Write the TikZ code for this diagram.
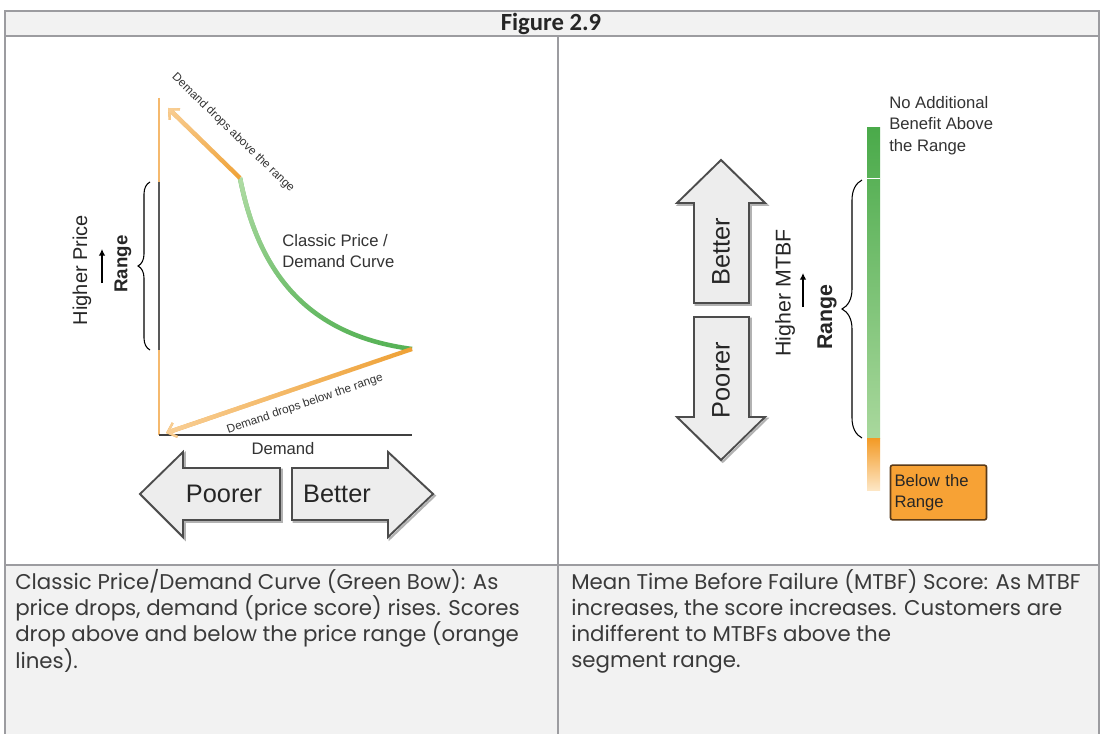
\documentclass[tikz,border=0pt]{standalone}
\usepackage{fontspec}
\setmainfont{Liberation Sans}
\newfontfamily\capfont{Poppins}
\newfontfamily\titlefont{Carlito}
\usetikzlibrary{arrows.meta, positioning, calc, decorations.pathreplacing, fadings}

\definecolor{rulegray}{HTML}{9C9CA0}
\definecolor{cellgray}{HTML}{F2F2F2}
\definecolor{textgray}{HTML}{3A3A3A}
\definecolor{lgreen}{HTML}{B2DDA6}
\definecolor{dgreen}{HTML}{55B255}
\definecolor{bargreen}{HTML}{4AAA4A}
\definecolor{barlight}{HTML}{A9D89D}
\definecolor{lorange}{HTML}{F9CF96}
\definecolor{dorange}{HTML}{EFA135}
\definecolor{axorange}{HTML}{F5B96E}
\definecolor{barorange}{HTML}{F39A25}
\definecolor{barpale}{HTML}{FDE6C4}
\definecolor{boxorange}{HTML}{F7A235}
\definecolor{boxedge}{HTML}{5A3A18}
\definecolor{arrowfill}{HTML}{EDEDED}

\tikzfading[name=fadedown, top color=transparent!0, bottom color=transparent!100]
\tikzfading[name=fadeleft, left color=transparent!0, right color=transparent!100]

\begin{document}
\begin{tikzpicture}[x=0.75pt, y=-0.75pt,
  rule/.style={draw=rulegray, line width=2.2pt},
  captext/.style={anchor=north west, align=left, text=textgray, inner sep=0pt,
    font=\capfont\fontsize{16}{19.7}\selectfont},
  lab/.style={text=black!80, inner sep=0pt, align=left, font=\fontsize{12.5}{16}\selectfont},
  tinylab/.style={text=black!80, inner sep=0pt, font=\fontsize{8.8}{10}\selectfont},
  biglab/.style={text=black!85, inner sep=0pt, font=\fontsize{19}{22}\selectfont},
  sidelab/.style={text=black!85, inner sep=0pt, rotate=90},
  blk/.style={fill=arrowfill, draw=black!70, line width=1.4pt, line join=miter,
    preaction={draw=black!30, line width=1.6pt, transform canvas={xshift=1.3pt, yshift=-1.3pt}}},
  orng/.style={line width=3.2pt, dorange, -{Straight Barb[length=6pt, width=11pt, line width=1.6pt]}},
  greencurve/.style={line width=3.4pt},
  uparrow/.style={-{Latex[length=5pt, width=5pt]}, line width=1.2pt},
  belowbox/.style={draw=boxedge, fill=boxorange, rounded corners=1.5pt, line width=1.2pt,
    text width=66pt, minimum height=41pt, inner sep=3pt, align=left, text=black!85,
    font=\fontsize{12.5}{16}\selectfont}]
  \useasboundingbox (0,0) rectangle (1102,734);
  \fill[white] (0,0) rectangle (1102,734);

  % table
  \fill[cellgray] (5,11) rectangle (1099,36);
  \fill[cellgray] (5,565) rectangle (1099,734);
  \draw[rule] (5,734) -- (5,11) -- (1099,11) -- (1099,734);
  \draw[rule] (5,36) -- (1099,36);
  \draw[rule] (5,565) -- (1099,565);
  \draw[rule] (558,36) -- (558,734);
  \node[font=\titlefont\bfseries\fontsize{18.5}{20}\selectfont, text=black!85] (ttl) at (551,23.5) {Figure 2.9};

  % price / demand panel
  \coordinate (org) at (159,435);
  \coordinate (ytop) at (159,98);
  \coordinate (rtop) at (159,182);
  \coordinate (rbot) at (159,350);
  \coordinate (xend) at (412,435);
  \coordinate (ctop) at (240,178);
  \coordinate (cbot) at (412,349);
  \coordinate (uptip) at (168,108);
  \coordinate (lowtip) at (166,433);
  \draw[axorange, line width=1.8pt] (ytop) -- (rtop) (rbot) -- (org);
  \draw[black!65, line width=1.8pt] (rtop) -- (rbot);
  \draw[black!75, line width=1.6pt] (org) -- (xend);
  \draw[greencurve, dgreen] (ctop) .. controls (258,270) and (305,335) .. (cbot);
  \draw[greencurve, lgreen, path fading=fadedown] (ctop) .. controls (258,270) and (305,335) .. (cbot);
  \draw[orng] (ctop) -- (uptip);
  \draw[orng, lorange, path fading=fadedown] (ctop) -- (uptip);
  \draw[orng] (cbot) -- (lowtip);
  \draw[orng, lorange, path fading=fadeleft] (cbot) -- (lowtip);
  \node[tinylab, rotate=-44] (dropup) at (233,133) {Demand drops above the range};
  \node[tinylab, rotate=18.8] (dropdn) at (305,404) {Demand drops below the range};
  \node[lab, anchor=west] (classic) at (282,251) {Classic Price /\\Demand Curve};
  \node[lab] (dem) at (283,449) {Demand};
  \draw[decorate, decoration={brace, amplitude=9pt}, line width=0.8pt] (150,350) -- (150,182);
  \node[sidelab, font=\bfseries\fontsize{14}{16}\selectfont] (rng) at (123,264) {Range};
  \node[sidelab, font=\fontsize{15}{17}\selectfont] (hprice) at (82,270) {Higher Price};
  \draw[uparrow] (102,283) -- (102,249);

  \draw[blk] (140,494) -- (183,452) -- (183,468) -- (280,468) -- (280,520) -- (183,520) -- (183,537) -- cycle;
  \node[biglab] (poor) at (224,494) {Poorer};
  \draw[blk] (292,468) -- (388,468) -- (388,452) -- (433,494) -- (388,537) -- (388,520) -- (292,520) -- cycle;
  \node[biglab] (bett) at (337,494) {Better};

  % MTBF panel
  \draw[blk] (694,303) -- (694,203) -- (677,203) -- (721,160) -- (765,203) -- (749,203) -- (749,303) -- cycle;
  \node[biglab, rotate=90] (bett2) at (721,252) {Better};
  \draw[blk] (694,317) -- (749,317) -- (749,417) -- (765,417) -- (721,460) -- (677,417) -- (694,417) -- cycle;
  \node[biglab, rotate=90] (poor2) at (721,380) {Poorer};
  \node[sidelab, font=\fontsize{16}{18}\selectfont] (hmtbf) at (785,293) {Higher MTBF};
  \draw[uparrow] (803,307) -- (803,273);
  \node[sidelab, font=\bfseries\fontsize{16}{18}\selectfont] (rng2) at (827,317) {Range};
  \draw[decorate, decoration={brace, amplitude=15pt}, line width=0.8pt] (862,438) -- (862,180);
  \shade[top color=bargreen, bottom color=barlight] (867,128) rectangle (880,438);
  \draw[white, line width=0.6pt] (867,178) -- (880,178);
  \shade[top color=barorange, bottom color=barpale] (867,438) rectangle (880,490);
  \node[lab, anchor=north west] (noadd) at (889,96) {No Additional\\Benefit Above\\the Range};
  \node[belowbox] (belowr) at (938.5,492.5) {Below the\\Range};

  % captions
  \node[captext] (capl) at (15,569) {Classic Price/Demand Curve (Green Bow): As\\
    price drops, demand (price score) rises. Scores\\
    drop above and below the price range (orange\\lines).};
  \node[captext] (capr) at (571,569) {Mean Time Before Failure (MTBF) Score: As MTBF\\
    increases, the score increases. Customers are\\
    indifferent to MTBFs above the\\segment range.};
\end{tikzpicture}
\end{document}
